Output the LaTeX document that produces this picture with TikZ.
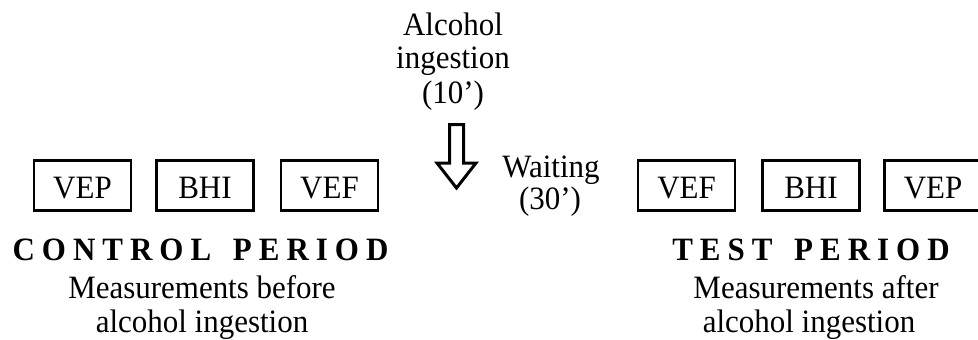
\documentclass[tikz,border=0pt]{standalone}
\usepackage{fontspec}
\setmainfont[FakeStretch=0.95]{Liberation Serif}
\newcommand{\ls}{\hspace{7pt}}
\begin{document}
\begin{tikzpicture}[x=1pt,y=-1pt,
  measure/.style={draw=black, line width=2.8pt, minimum width=97pt,
    minimum height=50.5pt, inner sep=0pt, text height=25.6pt, text depth=0pt,
    font=\fontsize{32.6}{36}\selectfont},
  txt/.style={anchor=base, inner sep=0pt, font=\fontsize{32.6}{36}\selectfont},
  title/.style={anchor=base, inner sep=0pt, font=\fontsize{32.6}{36}\selectfont\bfseries}]
\useasboundingbox (0,0) rectangle (978,340);
\begin{scope}
\clip (0,0) rectangle (978,340);

% control period boxes
\node[measure] (c1) at (82.5,185.5) {VEP};
\node[measure] (c2) at (205,185.5) {BHI};
\node[measure] (c3) at (329.5,185.5) {VEF};

% test period boxes
\node[measure] (t1) at (686.5,185.5) {VEF};
\node[measure] (t2) at (811,185.5) {BHI};
\node[measure] (t3) at (933,185.5) {VEP};

% intervention labels
\node[txt] (alc1) at (453,35) {Alcohol};
\node[txt] (alc2) at (453,68.5) {ingestion};
\node[txt] (alc3) at (453,103) {(10')};
\node[txt] (wait1) at (551,177) {Waiting};
\node[txt] (wait2) at (550,209) {(30')};

% hollow down arrow
\draw[line width=3pt, line join=miter]
  (449.5,124.5) -- (463.5,124.5) -- (463.5,163) -- (476,163) -- (456.5,188)
  -- (437,163) -- (449.5,163) -- cycle;

% period titles and descriptions
\node[title] (ctitle) at (200.5,260) {C\ls O\ls N\ls T\ls R\ls O\ls L\ls\ \ls P\ls E\ls R\ls I\ls O\ls D};
\node[txt] (cdesc1) at (202,298.5) {Measurements before};
\node[txt] (cdesc2) at (202,332) {alcohol ingestion};

\node[title] (ttitle) at (811,260) {T\ls E\ls S\ls T\ls\ \ls P\ls E\ls R\ls I\ls O\ls D};
\node[txt] (tdesc1) at (816,298.5) {Measurements after};
\node[txt] (tdesc2) at (809,332) {alcohol ingestion};
\end{scope}
\end{tikzpicture}
\end{document}
